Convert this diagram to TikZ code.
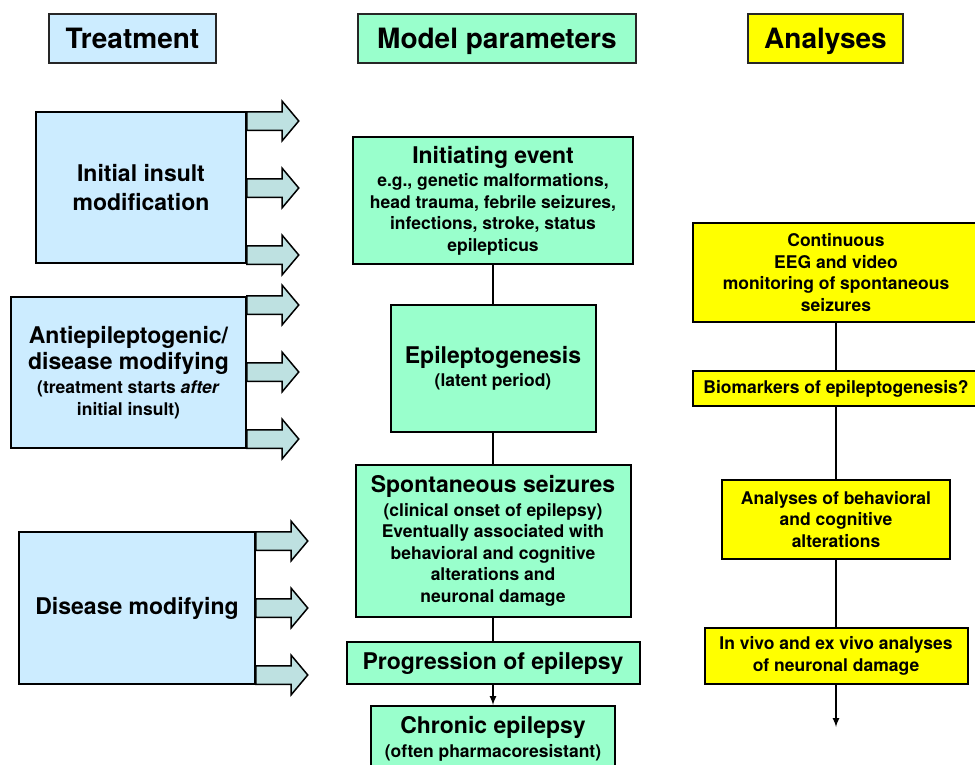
\documentclass[tikz,border=0pt]{standalone}
\usepackage{fontspec}
\setmainfont{TeX Gyre Heros}
\usepackage{tikz}
\usetikzlibrary{arrows,shapes.arrows}
\definecolor{treatblue}{RGB}{204,236,255}
\definecolor{modelgreen}{RGB}{153,255,204}
\definecolor{analysisyellow}{RGB}{255,255,0}
\definecolor{pushcyan}{RGB}{190,225,225}
\newcommand{\headsize}{\fontsize{28}{32}\selectfont}
\newcommand{\bigsize}{\fontsize{23}{28}\selectfont}
\newcommand{\smallsize}{\fontsize{17.5}{21.5}\selectfont}
\tikzstyle{Header}=[shape=rectangle, draw=black!85, line width=1.5pt, minimum height=49pt, inner sep=0pt, text height=20pt, text depth=0pt, text=black, font=\bfseries\headsize]
\tikzstyle{Treatment}=[shape=rectangle, draw=black, line width=2pt, fill=treatblue, inner sep=0pt, align=center, text=black, font=\bfseries\smallsize]
\tikzstyle{Model}=[shape=rectangle, draw=black, line width=2pt, fill=modelgreen, inner sep=0pt, align=center, text=black, font=\bfseries\smallsize]
\tikzstyle{Analysis}=[shape=rectangle, draw=black, line width=2pt, fill=analysisyellow, inner sep=0pt, align=center, text=black, font=\bfseries\smallsize]
\tikzstyle{Push}=[shape=single arrow, draw=black, line width=1.5pt, fill=pushcyan, minimum height=52pt, minimum width=38pt, single arrow head extend=10.5pt, single arrow tip angle=100, inner xsep=0pt, inner ysep=8.5pt, anchor=west]
\tikzstyle{link}=[line width=2pt]
\pgfdeclarelayer{nodelayer}
\pgfdeclarelayer{edgelayer}
\pgfsetlayers{nodelayer, edgelayer, main}

\begin{document}
\begin{tikzpicture}[x=1pt, y=-1pt]
	\useasboundingbox (0, 0) rectangle (975, 764);
	\begin{pgfonlayer}{nodelayer}
		% column heads
		\node [style=Header, fill=treatblue, minimum width=167pt] (treathead) at (132.5, 38.5) {Treatment};
		\node [style=Header, fill=modelgreen, minimum width=278pt] (modelhead) at (497, 38.5) {Model parameters};
		\node [style=Header, fill=analysisyellow, minimum width=155pt] (analysishead) at (825.5, 38.5) {Analyses};
		% treatment
		\node [style=Treatment, minimum width=210pt, minimum height=151pt] (insult) at (141, 187.5) {\bigsize Initial insult\\[8pt]\bigsize modification};
		\node [style=Treatment, minimum width=235pt, minimum height=151pt] (antiepi) at (128.5, 372.5) {\bigsize Antiepileptogenic/\\[3pt]\bigsize disease modifying\\[3pt](treatment starts \textit{after}\\initial insult)};
		\node [style=Treatment, minimum width=236pt, minimum height=152pt] (diseasemod) at (137, 608) {\bigsize Disease modifying};
		\node [style=Push] (insult1) at (246, 121) {};
		\node [style=Push] (insult2) at (246, 188) {};
		\node [style=Push] (insult3) at (246, 255) {};
		\node [style=Push] (antiepi1) at (246, 305) {};
		\node [style=Push] (antiepi2) at (246, 372) {};
		\node [style=Push] (antiepi3) at (246, 439) {};
		\node [style=Push] (diseasemod1) at (255, 541) {};
		\node [style=Push] (diseasemod2) at (255, 608) {};
		\node [style=Push] (diseasemod3) at (255, 675) {};
		% model parameters
		\node [style=Model, minimum width=280pt, minimum height=127pt] (initiating) at (493, 200.5) {\bigsize Initiating event\\[2pt]e.g., genetic malformations,\\head trauma, febrile seizures,\\infections, stroke, status\\epilepticus};
		\node [style=Model, minimum width=205pt, minimum height=127pt] (epileptogenesis) at (493, 368.5) {\bigsize Epileptogenesis\\[2pt](latent period)};
		\node [style=Model, minimum width=275pt, minimum height=152pt] (spontaneous) at (493, 541) {\bigsize Spontaneous seizures\\[2pt](clinical onset of epilepsy)\\Eventually associated with\\behavioral and cognitive\\alterations and\\neuronal damage};
		\node [style=Model, minimum width=293pt, minimum height=42pt] (progression) at (493, 663) {\bigsize Progression of epilepsy};
		\node [style=Model, minimum width=244pt, minimum height=66pt] (chronic) at (493, 739) {\bigsize Chronic epilepsy\\[2pt](often pharmacoresistant)};
		% analyses
		\node [style=Analysis, minimum width=286pt, minimum height=99pt] (monitoring) at (836, 272.5) {Continuous\\EEG and video\\monitoring of spontaneous\\seizures};
		\node [style=Analysis, minimum width=286pt, minimum height=35pt] (biomarkers) at (836, 388.5) {Biomarkers of epileptogenesis?};
		\node [style=Analysis, minimum width=228pt, minimum height=79pt] (behavioral) at (836, 519.5) {Analyses of behavioral\\and cognitive\\alterations};
		\node [style=Analysis, minimum width=263pt, minimum height=56pt] (neuronal) at (836, 656) {In vivo and ex vivo analyses\\of neuronal damage};
		\coordinate (analysisend) at (836, 727);
	\end{pgfonlayer}
	\begin{pgfonlayer}{edgelayer}
		\draw [style=link] (initiating) to (epileptogenesis);
		\draw [style=link] (epileptogenesis) to (spontaneous);
		\draw [style=link] (spontaneous) to (progression);
		\draw [-latex, style=link] (progression) to (chronic);
		% analyses
		\draw [style=link] (monitoring) to (biomarkers);
		\draw [style=link] (biomarkers) to (behavioral);
		\draw [style=link] (behavioral) to (neuronal);
		\draw [-latex, style=link] (neuronal) to (analysisend);
	\end{pgfonlayer}
\end{tikzpicture}
\end{document}
